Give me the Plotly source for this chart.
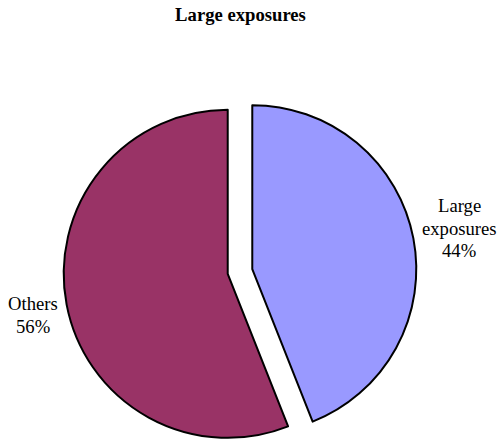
import math
import plotly.graph_objects as go

# ---- data ----
categories = ["Large exposures", "Others"]
shares = [44, 56]
label_lines = [["Large", "exposures"], ["Others"]]
colors = ["#9999FF", "#993366"]

# ---- layout constants ----
W, H = 501, 441
R = 164          # pie radius in px
PULL_PX = 12.5   # explode distance in px
CX, CY = 240, 271.5
FONT = "Liberation Serif, Times New Roman, serif"
FS = 18.67
LINE_GAP = 22.5
# label block placement (centre x, first-line centre y) in px
label_pos = [(459, 205.7), (32.5, 303.7)]

total = float(sum(shares))
fig = go.Figure()

start = 0.0
for i, v in enumerate(shares):
    frac = v / total
    mid = math.radians((start + frac / 2) * 360.0)
    start += frac
    cx = CX + PULL_PX * math.sin(mid)
    cy = CY - PULL_PX * math.cos(mid)
    dom_x = [(cx - R) / W, (cx + R) / W]
    dom_y = [1 - (cy + R) / H, 1 - (cy - R) / H]
    fig.add_trace(go.Pie(
        labels=categories,
        values=shares,
        sort=False,
        direction="clockwise",
        rotation=0,
        marker=dict(
            colors=[colors[j] if j == i else "rgba(0,0,0,0)" for j in range(len(shares))],
            line=dict(color="black", width=[2 if j == i else 0 for j in range(len(shares))]),
        ),
        textinfo="none",
        domain=dict(x=dom_x, y=dom_y),
        hoverinfo="skip",
        showlegend=False,
    ))

# labels: category lines + percentage
for i, v in enumerate(shares):
    lines = label_lines[i] + [f"{round(v / total * 100)}%"]
    lx, ly = label_pos[i]
    for k, line in enumerate(lines):
        fig.add_annotation(
            text=line, showarrow=False,
            xref="paper", yref="paper",
            x=lx / W, y=1 - (ly + k * LINE_GAP) / H,
            xanchor="center", yanchor="middle",
            font=dict(family=FONT, size=FS, color="black"),
        )

fig.update_layout(
    width=W, height=H,
    margin=dict(l=0, r=0, t=0, b=0),
    paper_bgcolor="white",
    plot_bgcolor="white",
    title=dict(
        text="<b>Large exposures</b>",
        font=dict(family=FONT, size=FS, color="black"),
        x=240.5 / W, xanchor="center",
        y=1 - 14 / H, yanchor="middle", yref="container",
    ),
)

fig.write_html("out.html")
